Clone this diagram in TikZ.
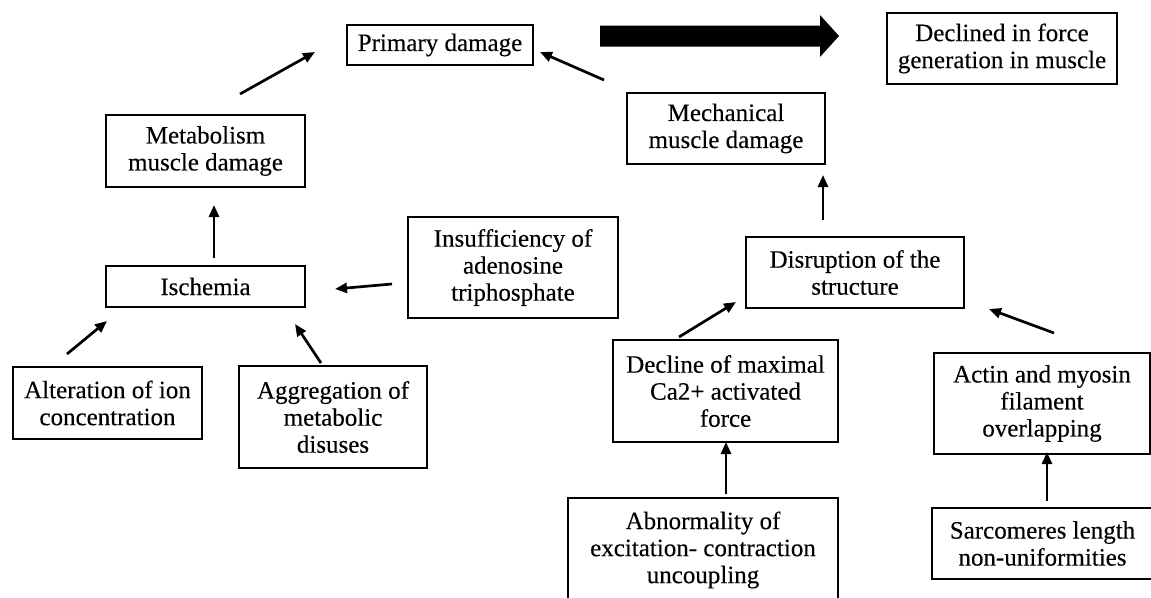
\documentclass[tikz,border=0pt]{standalone}
\usepackage{fontspec}
\setmainfont{Liberation Serif}
\newfontfamily\boxfont[FakeBold=0.25]{Liberation Serif}
\usetikzlibrary{arrows.meta}
\begin{document}
\begin{tikzpicture}[x=1pt,y=-1pt,
  box/.style={draw=black, line width=2.8pt, align=center, inner sep=0pt, outer sep=0pt,
              font=\boxfont\fontsize{25}{27}\selectfont},
  arr/.style={line width=2.7pt, -{Triangle[length=12pt,width=10pt]}},
  bigarrow/.style={fill=black}]
\useasboundingbox (0,0) rectangle (1151,597);
\clip (0,0) rectangle (1151,597);

% boxes
\node[box, minimum width=186pt, minimum height=40pt]  (prim)  at (440,45)    {Primary damage};
\node[box, minimum width=230pt, minimum height=71pt]  (decl)  at (1002,48.5) {Declined in force\\generation in muscle};
\node[box, minimum width=199pt, minimum height=72pt]  (metab) at (205.5,151) {Metabolism\\muscle damage};
\node[box, minimum width=198pt, minimum height=71pt]  (mech)  at (726,128.5) {Mechanical\\muscle damage};
\node[box, minimum width=199pt, minimum height=41pt]  (isch)  at (205.5,286.5) {Ischemia};
\node[box, minimum width=210pt, minimum height=101pt] (insuf) at (513,267.5) {Insufficiency of\\adenosine\\triphosphate};
\node[box, minimum width=218pt, minimum height=71pt]  (disr)  at (855,272.5) {Disruption of the\\structure};
\node[box, minimum width=189pt, minimum height=72pt]  (alter) at (107.5,403) {Alteration of ion\\concentration};
\node[box, minimum width=188pt, minimum height=102pt] (aggr)  at (333,417)   {Aggregation of\\metabolic\\disuses};
\node[box, minimum width=225pt, minimum height=102pt] (decline) at (725.5,391) {Decline of maximal\\Ca2+ activated\\force};
\node[box, minimum width=216pt, minimum height=101pt] (actin) at (1042,403.5) {Actin and myosin\\filament\\overlapping};
\node[box, minimum width=270pt, minimum height=104pt] (abn)   at (703,550)   {Abnormality of\\excitation- contraction\\uncoupling};
\node[box, minimum width=221pt, minimum height=71pt]  (sarc)  at (1042.5,543.5) {Sarcomeres length\\non-uniformities};

% big arrow
\coordinate (bigL) at (600,36);
\coordinate (bigR) at (839,36);
\fill[bigarrow] (bigL) ++(0,-10.5) -- ++(220,0) -- ++(0,-10.5) -- (bigR)
      -- ++(-19,21) -- ++(0,-10.5) -- ++(-220,0) -- cycle;

% connectors
\draw[arr] ([shift={(34.5,-21)}]metab.north) -- ([shift={(-32,7)}]prim.west);
\draw[arr] ([shift={(-23,-13)}]mech.north west) -- ([shift={(7,7)}]prim.east);
\draw[arr] ([shift={(8.5,-8)}]isch.north) -- ([shift={(8.5,18)}]metab.south);
\draw[arr] ([shift={(-16,16.5)}]insuf.west) -- ([shift={(30,2.5)}]isch.east);
\draw[arr] ([shift={(-40.5,-13)}]alter.north) -- ([shift={(1,14)}]isch.south west);
\draw[arr] ([shift={(-12,-3)}]aggr.north) -- ([shift={(-10,17)}]isch.south east);
\draw[arr] ([shift={(77,-17)}]disr.north west) -- ([shift={(-2,11)}]mech.south east);
\draw[arr] ([shift={(-46.5,-3)}]decline.north) -- ([shift={(-10,-6)}]disr.south west);
\draw[arr] ([shift={(12,-20)}]actin.north) -- ([shift={(25,1)}]disr.south east);
\draw[arr] ([shift={(23,-4)}]abn.north) -- ([shift={(0.5,0)}]decline.south);
\draw[arr] ([shift={(4.5,-7)}]sarc.north) -- ([shift={(5,-2)}]actin.south);
\end{tikzpicture}
\end{document}
